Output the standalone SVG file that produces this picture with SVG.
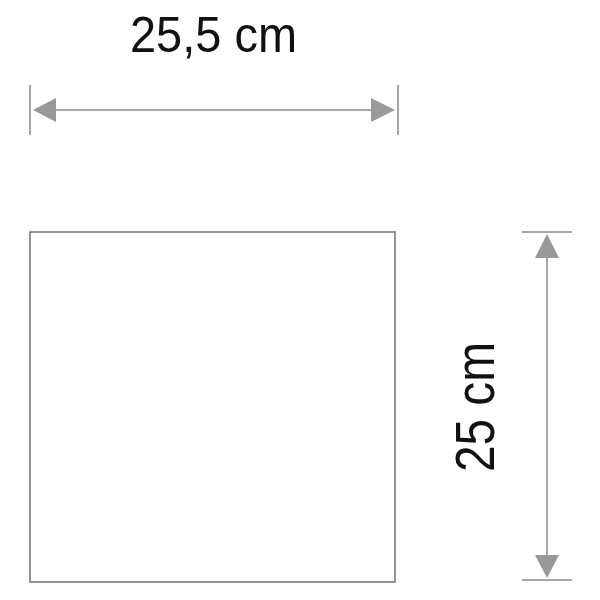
<svg xmlns="http://www.w3.org/2000/svg" width="600" height="600" viewBox="0 0 600 600">
<style>
.dim{stroke:#a6a6a6;stroke-width:2;fill:none}
.arr{fill:#999999}
.lbl{font-family:"Liberation Sans",Arial,sans-serif;font-size:50px;fill:#111}
</style>
<rect width="600" height="600" fill="#fff"/>
<g id="box"><rect x="30" y="232" width="365" height="350" fill="none" stroke="#7a7a7a" stroke-width="1.6"/></g>
<g id="connectors">
<line class="dim" x1="30" y1="85" x2="30" y2="135"/>
<line class="dim" x1="398" y1="85" x2="398" y2="135"/>
<line class="dim" x1="50" y1="110" x2="378" y2="110"/>
<polygon class="arr" points="33,110 56,98 56,122"/>
<polygon class="arr" points="395,110 371,98 371,122"/>
<line class="dim" x1="522" y1="232" x2="572" y2="232"/>
<line class="dim" x1="522" y1="580" x2="572" y2="580"/>
<line class="dim" x1="547" y1="252" x2="547" y2="560"/>
<polygon class="arr" points="547,234 535,258 559,258"/>
<polygon class="arr" points="547,578 535,555 559,555"/>
</g>
<g id="label-width"><text class="lbl" x="130" y="52" textLength="167" lengthAdjust="spacingAndGlyphs">25,5 cm</text></g>
<g id="label-height"><text class="lbl" style="font-size:55px" transform="translate(494,472) rotate(-90)" x="0" y="0" textLength="130" lengthAdjust="spacingAndGlyphs">25 cm</text></g>
</svg>
